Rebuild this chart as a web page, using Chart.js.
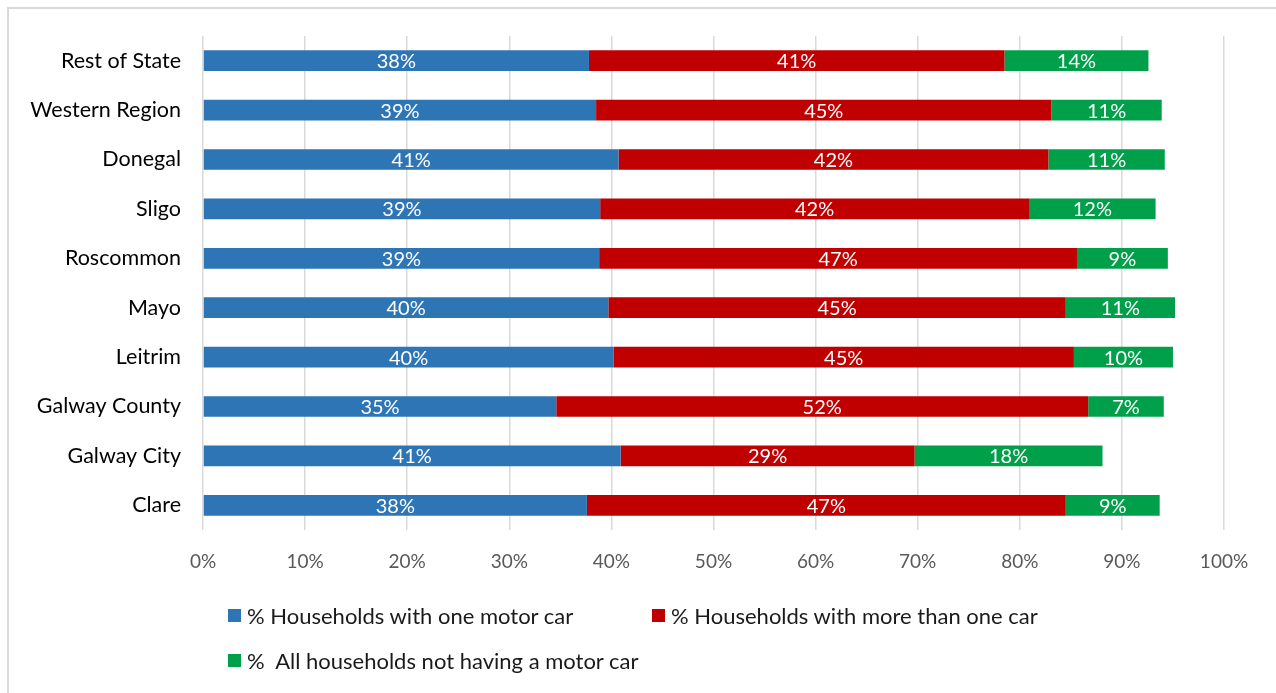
<!DOCTYPE html>
<html>
<head>
<meta charset="utf-8">
<script src="https://cdn.jsdelivr.net/npm/chart.js@4"></script>
<style>
  html, body { margin: 0; padding: 0; background: #fff; }
  body { width: 1276px; height: 693px; position: relative; overflow: hidden; font-family: Lato, "Open Sans", sans-serif; }
  .frame { position: absolute; left: 7px; top: 7px; width: 1280px; height: 700px; border: 2px solid #d9d9d9; box-sizing: border-box; }
  #wrap { position: absolute; left: 0; top: 0; width: 1276px; height: 693px; }
  .legend { position: absolute; font-size: 22px; color: #1a1a1a; display: flex; align-items: center; white-space: pre; }
  .legend span.box { width: 13px; height: 13px; margin-right: 6px; display: inline-block; }
</style>
</head>
<body>
<div class="frame"></div>
<div id="wrap"><canvas id="carChart"></canvas></div>
<div id="legend"></div>
<script>
const areas = ['Rest of State', 'Western Region', 'Donegal', 'Sligo', 'Roscommon', 'Mayo', 'Leitrim', 'Galway County', 'Galway City', 'Clare'];
const oneCar = [37.8, 38.5, 40.7, 38.9, 38.8, 39.7, 40.2, 34.6, 40.9, 37.6];
const moreCars = [40.7, 44.6, 42.1, 42.0, 46.8, 44.8, 45.1, 52.1, 28.8, 46.9];
const noCar = [14.1, 10.8, 11.4, 12.4, 8.9, 10.7, 9.7, 7.4, 18.4, 9.2];
const xTicks = [0, 10, 20, 30, 40, 50, 60, 70, 80, 90, 100];

const seriesNames = ['% Households with one motor car', '% Households with more than one car', '%  All households not having a motor car'];
const seriesColors = ['#2E75B6', '#C00000', '#00A04A'];
const legendPos = [[228, 615], [652, 615], [228, 660]];

// white % labels in the middle of each segment
const barLabels = {
  id: 'barLabels',
  afterDatasetsDraw(chart) {
    const ctx = chart.ctx;
    ctx.save();
    ctx.fillStyle = '#fff';
    ctx.font = '20px Lato, "Open Sans", sans-serif';
    ctx.textAlign = 'center';
    ctx.textBaseline = 'middle';
    chart.data.datasets.forEach((ds, i) => {
      chart.getDatasetMeta(i).data.forEach((bar, j) => {
        const mid = (bar.x + bar.base) / 2;
        ctx.fillText(Math.round(ds.data[j]) + '%', mid, bar.y + 1);
      });
    });
    ctx.restore();
  }
};

const ctx = document.getElementById('carChart').getContext('2d');
const carChart = new Chart(ctx, {
  type: 'bar',
  data: {
    labels: areas,
    datasets: [oneCar, moreCars, noCar].map((d, i) => ({
      label: seriesNames[i],
      data: d,
      backgroundColor: seriesColors[i],
      borderWidth: 0,
      barPercentage: 0.42,
      categoryPercentage: 1
    }))
  },
  options: {
    indexAxis: 'y',
    responsive: true,
    maintainAspectRatio: false,
    animation: false,
    layout: { padding: { left: 0, right: 52, top: 36, bottom: 120 } },
    plugins: {
      legend: { display: false },
      tooltip: { enabled: false }
    },
    scales: {
      x: {
        stacked: true,
        min: 0,
        max: 100,
        afterBuildTicks: s => { s.ticks = xTicks.map(v => ({ value: v })); },
        afterFit: s => { s.height = 43; },
        grid: { color: '#d9d9d9', lineWidth: 1.5, drawTicks: false },
        border: { display: false },
        ticks: { color: '#595959', padding: 20, font: { size: 19, family: 'Lato' }, callback: v => v + '%' }
      },
      y: {
        stacked: true,
        afterFit: s => { s.width = 203; },
        grid: { display: false, drawTicks: false },
        border: { display: false },
        ticks: { color: '#000', padding: 22, font: { size: 21.5, family: 'Lato' } }
      }
    }
  },
  plugins: [barLabels]
});

const legendEl = document.getElementById('legend');
seriesNames.forEach((name, i) => {
  const item = document.createElement('div');
  item.className = 'legend';
  item.style.left = legendPos[i][0] + 'px';
  item.style.top = (legendPos[i][1] - 13) + 'px';
  item.innerHTML = '<span class="box" style="background:' + seriesColors[i] + '"></span>' + name;
  legendEl.appendChild(item);
});
</script>
</body>
</html>
